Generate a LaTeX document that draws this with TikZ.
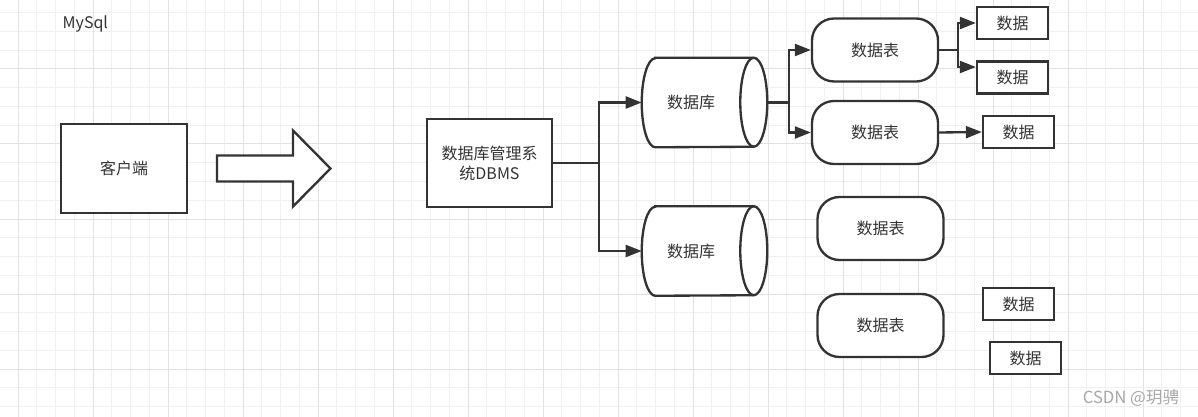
\documentclass[tikz,border=0pt]{standalone}
\usepackage{fontspec}
\setmainfont{Noto Sans CJK SC}
\usetikzlibrary{arrows.meta,calc}
\definecolor{ink}{HTML}{333333}
\definecolor{gridminor}{HTML}{F0F0F0}
\definecolor{gridmajor}{HTML}{E2E2E2}
\definecolor{wm}{HTML}{A8A8A8}
\tikzset{
  every node/.style={font=\fontsize{12pt}{15pt}\selectfont, text=ink},
  outline/.style={draw=ink, line width=1.75pt},
  boxnode/.style={outline, rectangle, fill=white, inner sep=0pt},
  tablenode/.style={outline, rectangle, rounded corners=16.5pt, fill=white, inner sep=0pt, minimum width=94.5pt, minimum height=47.25pt},
  datanode/.style={outline, rectangle, fill=white, inner sep=0pt, minimum width=53.25pt, minimum height=24pt},
  cylnode/.style={rectangle, inner sep=0pt, minimum width=93.75pt, minimum height=66.75pt},
  conn/.style={draw=ink, line width=1.75pt, -{Triangle[length=12pt,width=9pt]}},
  plain/.style={draw=ink, line width=1.75pt},
}
\newcommand{\cyl}[1]{%
  \draw[outline, fill=white]
    ($(#1.north west)+(13.5,0)$) -- ($(#1.north east)+(-13.5,0)$)
    arc[start angle=90, end angle=-90, x radius=10.125pt, y radius=33.375pt]
    -- ($(#1.south west)+(13.5,0)$)
    arc[start angle=270, end angle=90, x radius=10.125pt, y radius=33.375pt] -- cycle;
  \draw[outline] ($(#1.north east)+(-13.5,0)$)
    arc[start angle=90, end angle=270, x radius=10.125pt, y radius=33.375pt];
}
\begin{document}
\begin{tikzpicture}[x=0.75pt,y=-0.75pt]
\useasboundingbox (0,0) rectangle (1198,417);
\fill[white] (0,0) rectangle (1198,417);
% grid
\foreach \i in {0,...,64} {
  \draw[gridminor, line width=0.75pt] ({-0.75+18.75*\i},0) -- ({-0.75+18.75*\i},417);
}
\foreach \j in {0,...,22} {
  \draw[gridminor, line width=0.75pt] (0,{12.75+18.75*\j}) -- (1198,{12.75+18.75*\j});
}
\foreach \i in {0,...,15} {
  \draw[gridmajor, line width=0.75pt] ({18+75*\i},0) -- ({18+75*\i},417);
}
\foreach \j in {0,...,5} {
  \draw[gridmajor, line width=0.75pt] (0,{-6+75*\j}) -- (1198,{-6+75*\j});
}

% title
\node[anchor=west] (title) at (58,24) {MySql};

% client
\node[boxnode, minimum width=94.5pt, minimum height=66.75pt] (client) at (124,168.5) {客户端};

% block arrow
\draw[outline, fill=white] (217,155.5) -- (293,155.5) -- (293,130.5) -- (330.5,168.5)
  -- (293,206.5) -- (293,181.5) -- (217,181.5) -- cycle;

% DBMS
\node[boxnode, minimum width=93.75pt, minimum height=66pt, align=center] (dbms) at (489.5,163) {数据库管理系\\统DBMS};

% databases
\node[cylnode] (db1) at (704.5,102.5) {};
\cyl{db1}
\node (db1t) at ($(db1.center)+(-13.5,0)$) {数据库};
\node[cylnode] (db2) at (704.5,251) {};
\cyl{db2}
\node (db2t) at ($(db2.center)+(-13.5,0)$) {数据库};

% tables
\node[tablenode] (tb1) at (875,50) {数据表};
\node[tablenode] (tb2) at (875,132.5) {数据表};
\node[tablenode] (tb3) at (880.5,228.5) {数据表};
\node[tablenode] (tb4) at (880.5,325.5) {数据表};

% data
\node[datanode] (d1) at (1012.5,23) {数据};
\node[datanode] (d2) at (1012.5,77.5) {数据};
\node[datanode] (d3) at (1018.5,132) {数据};
\node[datanode] (d4) at (1018.5,304) {数据};
\node[datanode] (d5) at (1025.5,358) {数据};

% connectors
\draw[plain] (dbms.east) -- ++(45.5,0) coordinate (j1);
\draw[conn] (j1) |- (db1.west);
\draw[conn] (j1) |- (db2.west);

\draw[plain] (db1.east) -- ++(22,0) coordinate (j2);
\draw[conn] (j2) |- (tb1.west);
\draw[conn] (j2) |- (tb2.west);

\draw[plain] (tb1.east) -- ++(19,0) coordinate (j3);
\draw[conn] (j3) |- (d1.west);
\draw[conn] (j3) |- ($(d2.west)+(0,-10.5)$);

\draw[conn] (tb2.east) -- (d3.west);

% watermark
\node[anchor=east, text=wm, font=\fontsize{12.5pt}{15pt}\selectfont] (wmark) at (1184,398) {CSDN @玥骋};
\end{tikzpicture}
\end{document}
